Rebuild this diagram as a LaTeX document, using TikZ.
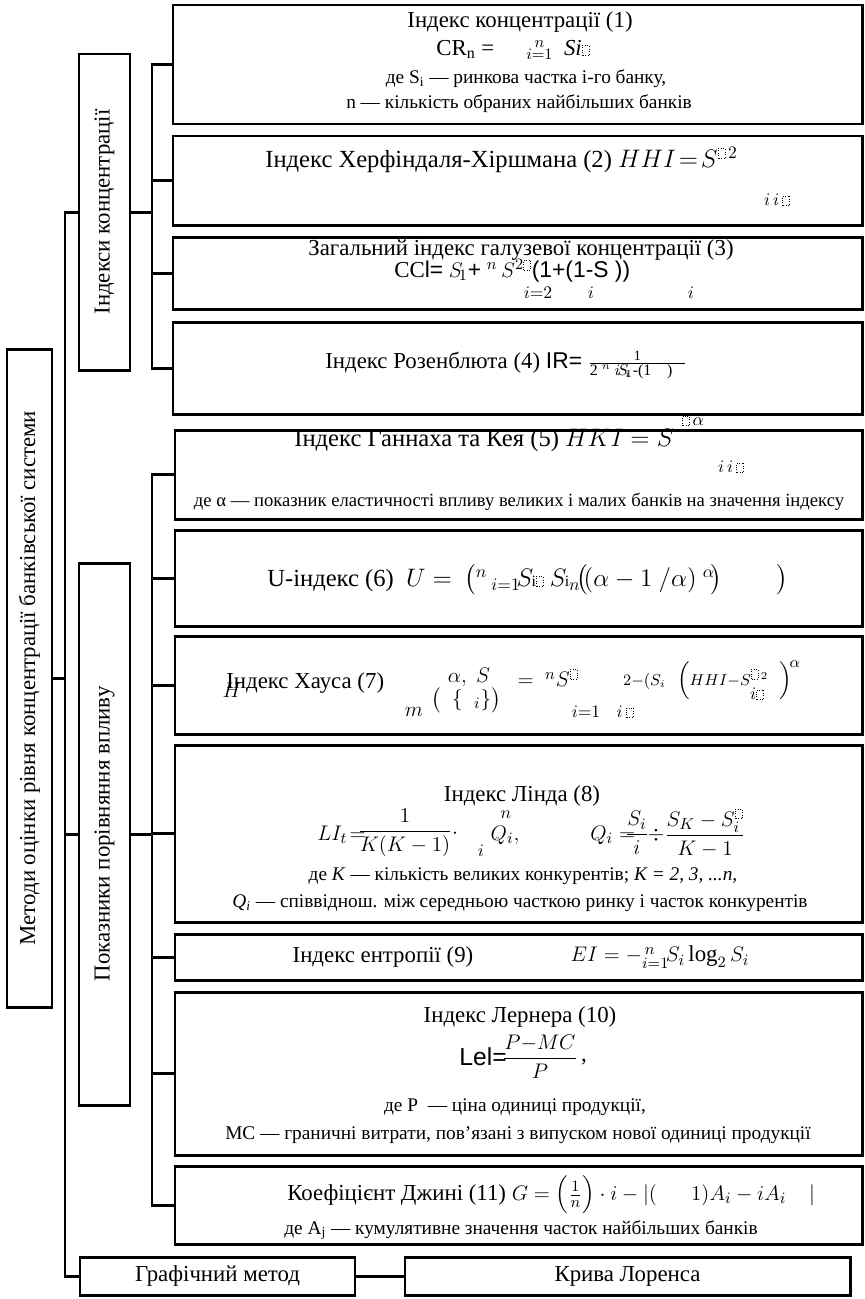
\documentclass[tikz,border=0pt]{standalone}
\usepackage{amsmath}
\usepackage{fontspec}
\setmainfont{Liberation Serif}
\newfontfamily\arialf{Liberation Sans}
\usepackage{tikz}
\tikzstyle{frame}=[draw, line width=1.7pt, inner sep=0pt]
\tikzstyle{link}=[line width=1.7pt, line cap=rect]
\tikzstyle{headtext}=[inner sep=0pt, font=\fontsize{13}{15}\selectfont]
\tikzstyle{bigtext}=[inner sep=0pt, font=\fontsize{14}{17}\selectfont]
\tikzstyle{notetext}=[inner sep=0pt, font=\fontsize{11}{13}\selectfont]
\tikzstyle{formtext}=[inner sep=0pt, font=\fontsize{13}{15}\selectfont]
\tikzstyle{idxtext}=[inner sep=0pt, font=\fontsize{10}{12}\selectfont]
% dotted placeholder of a missing glyph
\newcommand{\phb}{\tikz[baseline=0pt]\draw[densely dotted, line width=0.4pt] (0pt,0pt) rectangle (4pt,5.5pt);}

\begin{document}
\begin{tikzpicture}[x=0.02cm, y=-0.02cm]
  \def\px{0.02cm}
  \useasboundingbox (0,0) rectangle (865,1299);

  % left column
  \node[frame, minimum width=45*\px, minimum height=658*\px] (root) at (29.5,678) {};
  \node[headtext, rotate=90] (root text) at (root.center)
    {Методи оцінки рівня концентрації банківської системи};
  \node[frame, minimum width=51*\px, minimum height=316*\px] (conc) at (104.5,212) {};
  \node[headtext, rotate=90] (conc text) at (conc.center) {Індекси концентрації};
  \node[frame, minimum width=51*\px, minimum height=542*\px] (comp) at (104.5,834) {};
  \node[headtext, rotate=90] (comp text) at (comp.center) {Показники порівняння впливу};

  % index boxes
  \node[frame, minimum width=689*\px, minimum height=119*\px] (1) at (517.5,64.5) {};
  \node[frame, minimum width=689*\px, minimum height=89*\px] (2) at (517.5,180.5) {};
  \node[frame, minimum width=689*\px, minimum height=72*\px] (3) at (517.5,273) {};
  \node[frame, minimum width=689*\px, minimum height=92*\px] (4) at (517.5,368) {};
  \node[frame, minimum width=687*\px, minimum height=89*\px] (5) at (518.5,474.5) {};
  \node[frame, minimum width=687*\px, minimum height=96*\px] (6) at (518.5,578) {};
  \node[frame, minimum width=687*\px, minimum height=98*\px] (7) at (518.5,685) {};
  \node[frame, minimum width=687*\px, minimum height=177*\px] (8) at (518.5,833.5) {};
  \node[frame, minimum width=687*\px, minimum height=46*\px] (9) at (518.5,957) {};
  \node[frame, minimum width=687*\px, minimum height=163*\px] (10) at (518.5,1073.5) {};
  \node[frame, minimum width=687*\px, minimum height=78*\px] (11) at (518.5,1205) {};

  \node[frame, headtext, minimum width=275*\px, minimum height=38*\px] (graph) at (217.5,1276)
    {Графічний метод};
  \node[frame, headtext, minimum width=445*\px, minimum height=38*\px] (lorenz) at (627.5,1276)
    {Крива Лоренса};

  % (1)
  \node[headtext] (1 title) at (520,22) {Індекс концентрації (1)};
  \node[headtext, anchor=west] (1 formula) at (436,50)
    {CR\textsubscript{n} =\hspace{1.4em}$\substack{n\\ i=1}$\ \ $\mathit{Si}$\phb};
  \node[notetext] (1 note a) at (526,79) {де S\textsubscript{i} — ринкова частка і-го банку,};
  \node[notetext] (1 note b) at (519,104) {n — кількість обраних найбільших банків};

  % (2)
  \node[bigtext, anchor=west] (2 title) at (265,160)
    {Індекс Херфіндаля-Хіршмана (2) $HHI\!=\!S^{\phb\,2}$};
  \node[idxtext] (2 index) at (777,200) {$i\,i$\,\phb};

  % (3)
  \node[headtext] (3 title) at (521,250) {Загальний індекс галузевої концентрації (3)};
  \node[headtext, anchor=west] (3 formula) at (394,271)
    {CC{\arialf l=} $S_{\!1}${\arialf +} $^{n}\,S^{2\phb}${\arialf (1+(1-S ))}};
  \node[idxtext] (3 index a) at (538,293) {$i{=}2$};
  \node[idxtext] (3 index b) at (591,293) {$i$};
  \node[idxtext] (3 index c) at (691,293) {$i$};

  % (4)
  \node[headtext, anchor=west] (4 title) at (325,365)
    {Індекс Розенблюта (4) {\arialf IR=} $\genfrac{}{}{0.6pt}{}{\text{\footnotesize 1}}%
      {\text{\small 2 $^{n}$ $i\!S_{\!i}$\kern-3pt$_{1}$-(1\quad)\hspace{0.8em}}}$};

  % (5)
  \node[bigtext, anchor=west] (5 title) at (294,440) {Індекс Ганнаха та Кея (5) $HKI = S$};
  \node[idxtext] (5 power) at (693,421) {\phb\,$\alpha$};
  \node[idxtext] (5 index) at (731,467) {$i\,i$\,\phb};
  \node[notetext, font=\fontsize{10.6}{13}\selectfont] (5 note) at (519,502)
    {де α — показник еластичності впливу великих і малих банків на значення індексу};

  % (6)
  \node[bigtext, anchor=west] (6 title) at (267,580)
    {U-індекс (6)\ \ $U=$\ \ $\big({}^{n}\,{}_{i=1}\!S$\kern-1pt{\small i}\phb\
     $S$\kern-1pt{\small i}$_{n}\!\big(\!(\alpha-1\ /\alpha)\ {}^{\alpha}\!\big)$\hspace{2.2em}$\big)$};

  % (7)
  \node[headtext, anchor=west] (7 title) at (226,683) {Індекс Хауса (7)};
  \node[formtext] (7 h) at (232,690) {$H$};
  \node[formtext] (7 alpha) at (469,677) {$\alpha,\ S$};
  \node[formtext] (7 m) at (414,712) {$m$};
  \node[formtext] (7 set) at (466,700) {$\big(\ \ \{\ \ {}_{i}\}\big)$};
  \node[formtext] (7 sum) at (548,678) {$=\ ^{n}S^{\phb}$};
  \node[idxtext] (7 index a) at (586,712) {$i{=}1$};
  \node[idxtext] (7 index b) at (625,712) {$i$\,\phb};
  \node[formtext] (7 rest) at (712,680)
    {$\scriptstyle 2-(S_{i}\ \ \displaystyle\Bigl(\scriptstyle HHI-S^{\phb\,2}\ \ \displaystyle\Bigr)^{\!\alpha}$};
  \node[idxtext] (7 index c) at (757,694) {$i$\phb};

  % (8)
  \node[headtext] (8 title) at (522,796) {Індекс Лінда (8)};
  \node[formtext, anchor=east] (8 li) at (366,835) {$LI_{t}\!=$};
  \node[formtext] (8 frac) at (405,833) {$\dfrac{1}{K(K-1)}$};
  \node[formtext] (8 dot) at (455,834) {$\cdot$};
  \node[idxtext] (8 n) at (506,815) {$n$};
  \node[formtext] (8 q) at (505,835) {$Q_{i},$};
  \node[idxtext] (8 i) at (481,851) {$i$};
  \node[formtext, anchor=west] (8 qi) at (590,835) {$Q_{i} =$};
  \node[formtext] (8 si) at (637,833) {$\dfrac{S_{i}}{i}$};
  \node[formtext] (8 div) at (656,835) {$\div$};
  \node[formtext] (8 sk) at (705,833) {$\dfrac{S_{K}-S_{i}^{\phb}}{K-1}$};
  \node[notetext] (8 note a) at (523,876)
    {де \textit{K} — кількість великих конкурентів; \textit{K = 2, 3, ...n,}};
  \node[notetext] (8 note b) at (520,903)
    {\textit{Q\textsubscript{i}} — співвіднош. між середньою часткою ринку і часток конкурентів};

  % (9)
  \node[headtext] (9 title) at (383,957) {Індекс ентропії (9)};
  \node[formtext] (9 formula) at (660,957) {$EI=-{}^{\,n}_{i=1}\!S_{i}\log_{2}S_{i}$};

  % (10)
  \node[headtext] (10 title) at (520,1017) {Індекс Лернера (10)};
  \node[bigtext, anchor=east] (10 lel) at (507,1057) {\arialf Lel=};
  \node[formtext] (10 frac) at (540,1057) {$\dfrac{P{-}MC}{P}$};
  \node[headtext] (10 comma) at (584,1062) {,};
  \node[notetext] (10 note a) at (515,1107) {де P \ — ціна одиниці продукції,};
  \node[notetext] (10 note b) at (518,1135)
    {MC — граничні витрати, пов'язані з випуском нової одиниці продукції};

  % (11)
  \node[headtext, anchor=west] (11 title) at (287,1195)
    {Коефіцієнт Джині (11) $G = \Bigl(\frac{1}{n}\Bigr)\cdot i-|($\hspace{1.5em}$1)A_{i}-iA_{i}$\hspace{1em}$|$};
  \node[notetext] (11 note) at (521,1230)
    {де A\textsubscript{j} — кумулятивне значення часток найбільших банків};

  % trunk
  \coordinate (trunk) at (65,212);
  \coordinate (trunk end) at (65,1276);
  \draw[link] (trunk) -- (trunk end);
  \draw[link] (root.east) -- (root.east -| trunk);
  \draw[link] (trunk) -- (conc.west);
  \draw[link] (comp.west -| trunk) -- (comp.west);
  \draw[link] (trunk end) -- (graph.west);
  \draw[link] (graph.east) -- (lorenz.west);

  % branches
  \coordinate (branch) at (152,0);
  \draw[link] (conc.east) -- (conc.east -| branch);
  \draw[link] (1.west -| branch) -- (4.west -| branch);
  \foreach \x in {1,...,4} {
    \draw[link] (\x.west -| branch) -- (\x.west);
  }
  \draw[link] (comp.east) -- (comp.east -| branch);
  \draw[link] (5.west -| branch) -- (11.west -| branch);
  \foreach \x in {5,...,11} {
    \draw[link] (\x.west -| branch) -- (\x.west);
  }
\end{tikzpicture}
\end{document}
